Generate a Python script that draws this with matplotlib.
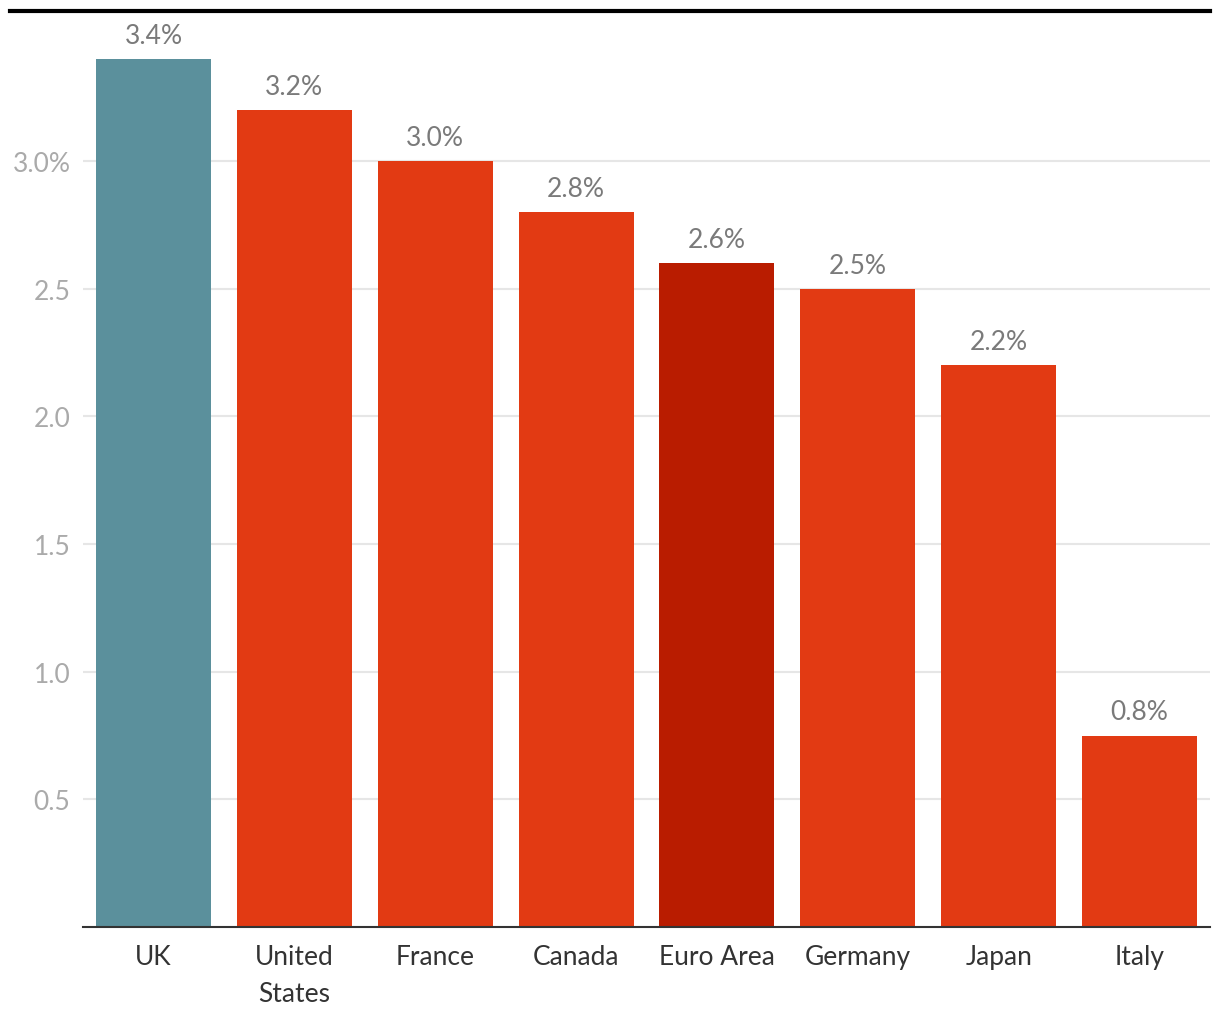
import matplotlib.pyplot as plt
from matplotlib.lines import Line2D

countries = ['UK', 'United\nStates', 'France', 'Canada', 'Euro Area', 'Germany', 'Japan', 'Italy']
growth = [3.4, 3.2, 3.0, 2.8, 2.6, 2.5, 2.2, 0.75]
value_labels = ['3.4%', '3.2%', '3.0%', '2.8%', '2.6%', '2.5%', '2.2%', '0.8%']
bar_colors = ['#5b909c', '#e23a13', '#e23a13', '#e23a13', '#b91c00', '#e23a13', '#e23a13', '#e23a13']
yticks = [0.5, 1.0, 1.5, 2.0, 2.5, 3.0]
ytick_labels = ['0.5', '1.0', '1.5', '2.0', '2.5', '3.0%']

plt.rcParams['font.family'] = ['Lato', 'DejaVu Sans']

fig = plt.figure(figsize=(12.2, 10.2), dpi=100)
fig.patch.set_facecolor('white')
ax = fig.add_axes([83 / 1220, 92 / 1020, (1210 - 83) / 1220, (928 - 11.4) / 1020])

x = range(len(countries))
bars = ax.bar(x, growth, width=0.816, color=bar_colors, zorder=3)

for b, lab in zip(bars, value_labels):
    ax.annotate(lab, (b.get_x() + b.get_width() / 2, b.get_height()),
                xytext=(0, 8), textcoords='offset points',
                ha='center', va='bottom', fontsize=19, color='#7a7a7a')

ax.set_xlim(-0.5, 7.5)
ax.set_ylim(0, 3.59)
ax.set_xticks(list(x))
ax.set_xticklabels(countries, fontsize=19, color='#333333', linespacing=1.6)
ax.set_yticks(yticks)
ax.set_yticklabels(ytick_labels, fontsize=19, color='#aaaaaa')
ax.tick_params(axis='x', length=0, pad=12)
ax.tick_params(axis='y', length=0, pad=9)

ax.grid(axis='y', color='#e6e6e6', linewidth=1.5, zorder=0)
for s in ['top', 'right', 'left']:
    ax.spines[s].set_visible(False)
ax.spines['bottom'].set_color('#333333')
ax.spines['bottom'].set_linewidth(1.5)
ax.spines['bottom'].set_zorder(4)

# thick black rule across the top
fig.add_artist(Line2D([10 / 1220, 1210 / 1220], [1 - 11.5 / 1020, 1 - 11.5 / 1020],
                      color='black', linewidth=3, transform=fig.transFigure))

fig.savefig('out.png', dpi=100, facecolor='white')
